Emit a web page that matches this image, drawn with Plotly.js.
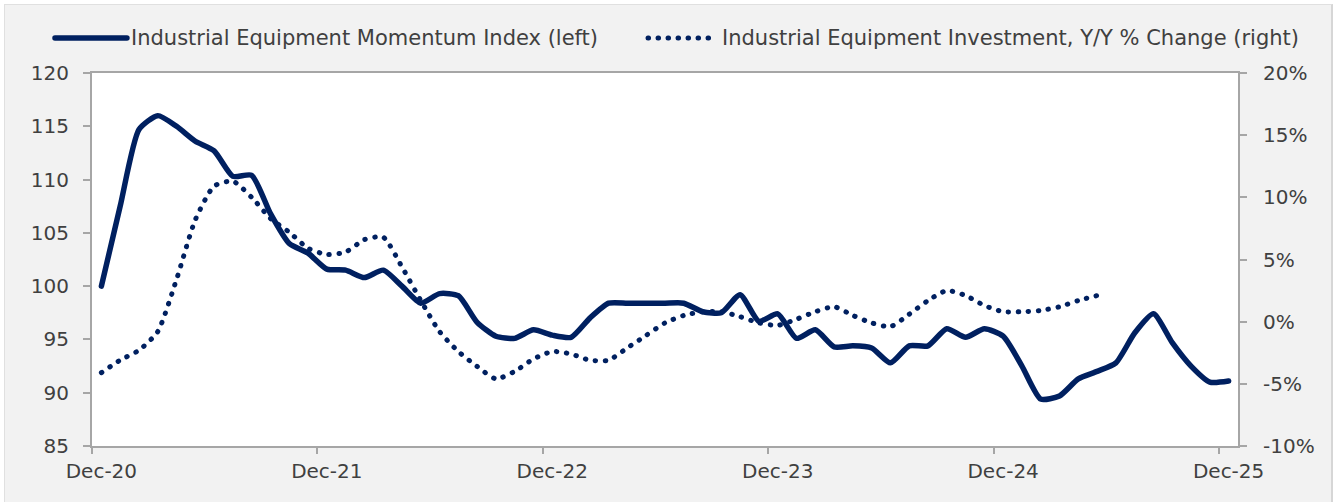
<!DOCTYPE html>
<html>
<head>
<meta charset="utf-8">
<script src="https://cdn.plot.ly/plotly-3.0.1.min.js"></script>
<style>
  html, body { margin: 0; padding: 0; background: #ffffff; }
  #frame { position: absolute; left: 4px; top: 4px; width: 1329px; height: 498px; background: #f2f2f2; border-top: 1px solid #e0e0e0; border-left: 1px solid #e0e0e0; border-right: 2px solid #d6d6d6; box-sizing: border-box; }
  #chart { position: absolute; left: 0; top: 0; width: 1338px; height: 502px; }
  #chart path.js-line, #chart .shapelayer path { stroke-linecap: round; stroke-linejoin: round; }
</style>
</head>
<body>
<div id="frame"></div>
<div id="chart"></div>
<script>
// Monthly categories Dec-20 .. Dec-25
const months = [
  "Dec-20","Jan-21","Feb-21","Mar-21","Apr-21","May-21","Jun-21","Jul-21","Aug-21","Sep-21","Oct-21","Nov-21",
  "Dec-21","Jan-22","Feb-22","Mar-22","Apr-22","May-22","Jun-22","Jul-22","Aug-22","Sep-22","Oct-22","Nov-22",
  "Dec-22","Jan-23","Feb-23","Mar-23","Apr-23","May-23","Jun-23","Jul-23","Aug-23","Sep-23","Oct-23","Nov-23",
  "Dec-23","Jan-24","Feb-24","Mar-24","Apr-24","May-24","Jun-24","Jul-24","Aug-24","Sep-24","Oct-24","Nov-24",
  "Dec-24","Jan-25","Feb-25","Mar-25","Apr-25","May-25","Jun-25","Jul-25","Aug-25","Sep-25","Oct-25","Nov-25",
  "Dec-25"
];

// Industrial Equipment Momentum Index (left axis)
const momentumIndex = [
  100.0, 107.5, 114.7, 116.0, 115.0, 113.6, 112.7, 110.3, 110.4, 106.8, 104.0, 103.1,
  101.6, 101.5, 100.8, 101.5, 100.0, 98.4, 99.3, 99.1, 96.6, 95.3, 95.1, 95.9,
  95.4, 95.2, 97.0, 98.4, 98.4, 98.4, 98.4, 98.4, 97.6, 97.5, 99.2, 96.7,
  97.4, 95.1, 95.9, 94.3, 94.4, 94.2, 92.8, 94.4, 94.4, 96.0, 95.2, 96.0,
  95.3, 92.5, 89.4, 89.7, 91.3, 92.0, 92.8, 95.6, 97.4, 94.7, 92.5, 91.0,
  91.1
];

// Industrial Equipment Investment, Y/Y % change (right axis), through May-25
const investmentYoY = [
  -4.1, -3.1, -2.3, -0.8, 3.4, 8.2, 10.9, 11.3, 10.0, 8.3, 7.2, 5.9,
  5.4, 5.6, 6.6, 6.8, 4.4, 1.7, -0.8, -2.4, -3.6, -4.6, -4.0, -3.0,
  -2.4, -2.6, -3.1, -3.1, -2.1, -1.1, -0.1, 0.5, 0.8, 0.8, 0.4, -0.1,
  -0.3, 0.2, 0.8, 1.2, 0.5, -0.1, -0.4, 0.6, 1.7, 2.5, 2.1, 1.3,
  0.8, 0.8, 0.9, 1.2, 1.7, 2.1
];

const yLeftTicks = [85, 90, 95, 100, 105, 110, 115, 120];
const yRightTicks = [-10, -5, 0, 5, 10, 15, 20];
const yRightLabels = yRightTicks.map(v => v + "%");

const seriesNames = [
  "Industrial Equipment Momentum Index (left)",
  "Industrial Equipment Investment, Y/Y % Change (right)"
];

const navy = "#002060";
const axisGray = "#a6a6a6";
const textColor = "#404040";
const fontFam = "DejaVu Sans, Verdana, sans-serif";
const dotDash = "0.5px,9.5px";

const traces = [
  {
    x: months, y: momentumIndex, type: "scatter", mode: "lines",
    name: seriesNames[0],
    line: { color: navy, width: 5.5, shape: "spline", smoothing: 0.6 },
    yaxis: "y"
  },
  {
    x: months.slice(0, investmentYoY.length), y: investmentYoY, type: "scatter", mode: "lines",
    name: seriesNames[1],
    line: { color: navy, width: 5, dash: dotDash, shape: "spline", smoothing: 0.6 },
    yaxis: "y2"
  }
];

// Legend drawn manually (long line samples as in the reference)
const legendY = 1.094;
const shapes = [
  { type: "line", xref: "paper", yref: "paper", x0: -0.0323, x1: 0.0305, y0: legendY, y1: legendY,
    line: { color: navy, width: 5.5 } },
  { type: "line", xref: "paper", yref: "paper", x0: 0.4852, x1: 0.5410, y0: legendY, y1: legendY,
    line: { color: navy, width: 5, dash: dotDash } }
];
const annotations = [
  { xref: "paper", yref: "paper", x: 0.0330, y: legendY, xanchor: "left", yanchor: "middle",
    text: seriesNames[0], showarrow: false, borderpad: 0,
    font: { family: fontFam, size: 21, color: textColor } },
  { xref: "paper", yref: "paper", x: 0.5488, y: legendY, xanchor: "left", yanchor: "middle",
    text: seriesNames[1], showarrow: false, borderpad: 0,
    font: { family: fontFam, size: 21, color: textColor } }
];

const layout = {
  width: 1338, height: 502,
  paper_bgcolor: "rgba(0,0,0,0)",
  plot_bgcolor: "#ffffff",
  margin: { l: 92, r: 100, t: 73, b: 56, pad: 0 },
  font: { family: fontFam, size: 20, color: textColor },
  showlegend: false,
  shapes: shapes,
  annotations: annotations,
  xaxis: {
    type: "category",
    categoryorder: "array", categoryarray: months,
    range: [-0.5, months.length - 0.5],
    tickmode: "linear", tick0: 0, dtick: 12,
    tickson: "boundaries",
    tickangle: 0,
    ticks: "outside", ticklen: 6, tickcolor: axisGray, tickwidth: 2,
    showline: true, linecolor: axisGray, linewidth: 2, mirror: true,
    showgrid: false, zeroline: false,
    tickfont: { family: fontFam, size: 20, color: textColor },
    ticklabelstandoff: 6,
    fixedrange: true
  },
  yaxis: {
    range: [85, 120], tickmode: "array", tickvals: yLeftTicks,
    ticks: "outside", ticklen: 7, tickcolor: axisGray, tickwidth: 2,
    showline: true, linecolor: axisGray, linewidth: 2, mirror: true,
    showgrid: false, zeroline: false,
    tickfont: { family: fontFam, size: 20, color: textColor },
    ticklabelstandoff: 10
  },
  yaxis2: {
    overlaying: "y", side: "right",
    range: [-10, 20], tickmode: "array", tickvals: yRightTicks, ticktext: yRightLabels,
    ticks: "outside", ticklen: 7, tickcolor: axisGray, tickwidth: 2,
    showline: true, linecolor: axisGray, linewidth: 2,
    showgrid: false, zeroline: false,
    tickfont: { family: fontFam, size: 20, color: textColor },
    ticklabelstandoff: 12
  }
};

Plotly.newPlot("chart", traces, layout, { displayModeBar: false, staticPlot: true });
</script>
</body>
</html>
